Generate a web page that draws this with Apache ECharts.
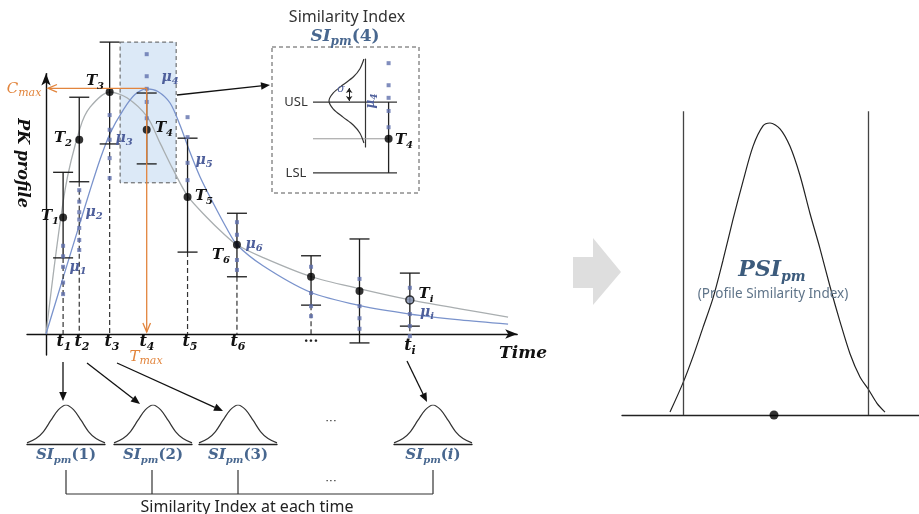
<!DOCTYPE html>
<html>
<head>
<meta charset="utf-8">
<script src="https://cdn.jsdelivr.net/npm/echarts@6/dist/echarts.min.js"></script>
<style>
  html, body { margin: 0; padding: 0; background: #fff; }
  #chart { width: 919px; height: 514px; }
</style>
</head>
<body>
<div id="chart"></div>
<script>
// sampling times: t1..t6, two unlabeled ones, ti
const times = [0.9, 1.75, 3.35, 5.3, 7.45, 10.05, 13.95, 16.5, 19.15];
// reference profile value T at each time (black dots) and its limits
const refPoints = [11.1, 18.5, 23.05, 19.45, 13.05, 8.5, 5.45, 4.1, 3.25];
const errTop = [15.4, 22.55, 27.8, 22.95, 18.65, 11.5, 7.45, 9.05, 5.8];
const errBottom = [7.25, 14.5, 18.1, 16.2, 7.8, 5.45, 2.75, -0.85, 0.75];
// individual test samples at each time (blue squares)
const samples = [
  [8.4, 7.4, 6.4, 4.9, 3.8],
  [13.7, 12.6, 11.6, 10.9, 10.1, 8.95, 8.0],
  [20.85, 19.45, 18.5, 16.75, 14.85],
  [26.65, 24.55, 23.35, 22.1, 20.55],
  [20.65, 18.75, 16.3, 14.65],
  [10.65, 9.45, 8.5, 7.05, 6.1],
  [6.4, 3.9, 2.65, 1.7],
  [5.25, 2.65, 1.5, 0.5],
  [4.4, 1.9, 0.75, -0.2]
];
// reference (grey) and test (blue) profiles
const refCurveT = [0, 1.0, 1.79, 2.32, 3.37, 4.26, 5.32, 6.0, 6.68, 7.47, 8.47, 9.32, 10.05, 11.4, 13.89, 16.53, 19.16, 21.79, 24.32];
const refCurveC = [0, 13.7, 19.6, 21.6, 23.05, 22.5, 20.7, 18.2, 15.7, 13.1, 11.1, 9.6, 8.5, 7.3, 5.5, 4.3, 3.25, 2.4, 1.6];
const testCurveT = [0, 0.89, 1.74, 2.32, 2.84, 3.37, 4.05, 4.68, 5.32, 5.89, 6.53, 7.05, 7.58, 8.11, 8.79, 9.53, 10.05, 11.42, 13.89, 16.53, 19.16, 21.79, 24.32];
const testCurveC = [0, 5.3, 10.3, 13.7, 16.6, 19.1, 21.3, 22.8, 23.35, 23.1, 22.0, 19.9, 17.3, 14.95, 12.5, 10.0, 8.5, 6.5, 4.0, 2.7, 1.9, 1.35, 0.95];
const cmax = 23.4;
const tmaxIndex = 3;
// highlighted region around t4: [t from, t to, c from, c to]
const focusBox = [3.9, 6.85, 14.4, 27.8];
// small similarity-index bells (offset in sigma, relative height)
const smallBellZ = [-2.6, -2, -1.5, -1, -0.5, 0, 0.5, 1, 1.5, 2, 2.6];
const smallBellH = [0.03, 0.14, 0.32, 0.61, 0.88, 1, 0.88, 0.61, 0.32, 0.14, 0.03];
const sigmaMark = [0.44, 0, 0.8];
// profile similarity index bell
const psiX = [-10.2, -8.9, -7.9, -6.9, -5.9, -4.9, -3.9, -2.9, -1.9, -0.9, -0.2, 0.8, 1.8, 2.8, 3.8, 4.8, 5.8, 6.8, 7.8, 8.8, 9.6, 10.5, 11.3];
const psiH = [0.01, 0.11, 0.2, 0.3, 0.4, 0.53, 0.67, 0.8, 0.92, 0.99, 1, 0.98, 0.92, 0.82, 0.69, 0.57, 0.44, 0.32, 0.21, 0.13, 0.09, 0.04, 0.01];
const psiLimits = [-8.9, 9.6];
const psiCenter = 0.2;
const insetColumnX = 0.9;

const SERIF = '"DejaVu Serif", serif';
const SANS = '"Noto Sans", sans-serif';
const BLUE_TXT = '#4e5f9b';
const SI_TXT = '#48678f';
const ORANGE = '#e2853d';

function zip(a, b) { return a.map((v, i) => [v, b[i]]); }

function label(x, y, text, o) {
  o = o || {};
  const size = o.size || 15;
  const sub = o.sub || Math.round(size * 0.68);
  const color = o.color || '#111';
  const w = o.weight || 'bold';
  const lh = Math.round(size * 1.32);
  return {
    type: 'text', x: x, y: y, rotation: o.rotation || 0, z: 100, silent: true,
    style: {
      text: text, align: o.align || 'center', verticalAlign: 'middle',
      rich: {
        m: { font: 'italic ' + w + ' ' + size + 'px ' + SERIF, fill: color, lineHeight: lh },
        r: { font: 'normal ' + w + ' ' + size + 'px ' + SERIF, fill: color, lineHeight: lh },
        s: { font: 'italic ' + w + ' ' + sub + 'px ' + SERIF, fill: color, lineHeight: Math.round(sub * 1.15), verticalAlign: 'bottom' }
      }
    }
  };
}

function plain(x, y, text, font, color, align) {
  return {
    type: 'text', x: x, y: y, z: 100, silent: true,
    style: { text: text, font: font, fill: color || '#222', align: align || 'center', verticalAlign: 'middle' }
  };
}

function arrow(x1, y1, x2, y2, color, open) {
  const a = Math.atan2(y2 - y1, x2 - x1);
  const L = 9, H = 3.8;
  const bx = x2 - L * Math.cos(a), by = y2 - L * Math.sin(a);
  const p1 = [bx + H * Math.sin(a), by - H * Math.cos(a)];
  const p2 = [bx - H * Math.sin(a), by + H * Math.cos(a)];
  const line = { type: 'line', shape: { x1: x1, y1: y1, x2: open ? x2 : bx, y2: open ? y2 : by }, style: { stroke: color, lineWidth: 1.3 } };
  const head = open
    ? { type: 'polyline', shape: { points: [p1, [x2, y2], p2] }, style: { stroke: color, lineWidth: 1.3, fill: null } }
    : { type: 'polygon', shape: { points: [[x2, y2], p1, p2] }, style: { fill: color } };
  return [line, head];
}

function line(x1, y1, x2, y2, color, w) {
  return { type: 'line', shape: { x1: x1, y1: y1, x2: x2, y2: y2 }, style: { stroke: color || '#333', lineWidth: w || 1.2 } };
}

const hidden = { show: false };
function hiddenAxis(grid, min, max, extra) {
  return Object.assign({ type: 'value', gridIndex: grid, min: min, max: max, show: false }, extra || {});
}
const baseLine = { show: true, onZero: false, lineStyle: { color: '#222', width: 1.3 } };

const grids = [
  { left: 27, top: 73.6, width: 490.2, height: 281.4 },
  { left: 329, top: 59, width: 36, height: 88 },
  { left: 313, top: 49, width: 84, height: 136.5 },
  { left: 27, top: 405, width: 78, height: 39 },
  { left: 114, top: 405, width: 78, height: 39 },
  { left: 199, top: 405, width: 78, height: 39 },
  { left: 394, top: 405, width: 78, height: 39 },
  { left: 622, top: 111.3, width: 300, height: 303.7 }
].map(g => Object.assign({ outerBoundsMode: 'none', containLabel: false }, g));

const mainAxisLine = {
  show: true, onZero: true, symbol: ['none', 'arrow'], symbolSize: [7, 12],
  lineStyle: { color: '#111', width: 1.4 }
};

const xAxes = [
  { type: 'value', gridIndex: 0, min: -1, max: 24.8, axisLine: mainAxisLine, axisTick: hidden, axisLabel: hidden, splitLine: hidden },
  hiddenAxis(1, 0, 1, { inverse: true }),
  hiddenAxis(2, 0, 1),
  { type: 'value', gridIndex: 3, min: -2.6, max: 2.6, axisLine: baseLine, axisTick: hidden, axisLabel: hidden, splitLine: hidden },
  { type: 'value', gridIndex: 4, min: -2.6, max: 2.6, axisLine: baseLine, axisTick: hidden, axisLabel: hidden, splitLine: hidden },
  { type: 'value', gridIndex: 5, min: -2.6, max: 2.6, axisLine: baseLine, axisTick: hidden, axisLabel: hidden, splitLine: hidden },
  { type: 'value', gridIndex: 6, min: -2.6, max: 2.6, axisLine: baseLine, axisTick: hidden, axisLabel: hidden, splitLine: hidden },
  { type: 'value', gridIndex: 7, min: -15, max: 15, axisLine: baseLine, axisTick: hidden, axisLabel: hidden, splitLine: hidden }
];
const yAxes = [
  { type: 'value', gridIndex: 0, min: -2, max: 24.8, axisLine: mainAxisLine, axisTick: hidden, axisLabel: hidden, splitLine: hidden },
  { type: 'value', gridIndex: 1, min: -2.85, max: 2.6, axisLine: { show: true, onZero: true, lineStyle: { color: '#333', width: 1.2 } }, axisTick: hidden, axisLabel: hidden, splitLine: hidden },
  hiddenAxis(2, 15, 28),
  hiddenAxis(3, 0, 1), hiddenAxis(4, 0, 1), hiddenAxis(5, 0, 1), hiddenAxis(6, 0, 1),
  hiddenAxis(7, 0, 1.04)
];

const series = [];

// shaded box around t4
series.push({
  type: 'custom', xAxisIndex: 0, yAxisIndex: 0, z: 1, silent: true,
  data: [focusBox],
  renderItem(p, api) {
    const a = api.coord([api.value(0), api.value(3)]);
    const b = api.coord([api.value(1), api.value(2)]);
    return { type: 'rect', shape: { x: a[0], y: a[1], width: b[0] - a[0], height: b[1] - a[1] },
      style: { fill: '#dce9f7', stroke: '#555', lineWidth: 1, lineDash: [4, 3] } };
  }
});

series.push({
  type: 'line', xAxisIndex: 0, yAxisIndex: 0, z: 2, symbol: 'none', smooth: 0.3,
  data: zip(refCurveT, refCurveC), lineStyle: { color: '#a9aeb0', width: 1.3 }
});
series.push({
  type: 'line', xAxisIndex: 0, yAxisIndex: 0, z: 2, symbol: 'none', smooth: 0.3,
  data: zip(testCurveT, testCurveC), lineStyle: { color: '#7a93cc', width: 1.3 }
});

// dashed drop lines from the lower limit to the time axis
series.push({
  type: 'custom', xAxisIndex: 0, yAxisIndex: 0, z: 3, silent: true,
  data: times.map((t, i) => [t, errBottom[i]]).filter((d, i) => d[1] > 0 && i !== tmaxIndex),
  renderItem(p, api) {
    const a = api.coord([api.value(0), api.value(1)]);
    const b = api.coord([api.value(0), 0]);
    return { type: 'line', shape: { x1: a[0], y1: a[1], x2: b[0], y2: b[1] },
      style: { stroke: '#333', lineWidth: 1.2, lineDash: [5, 3] } };
  }
});

// limit bars
series.push({
  type: 'custom', xAxisIndex: 0, yAxisIndex: 0, z: 4, silent: true,
  data: times.map((t, i) => [t, errTop[i], errBottom[i]]),
  renderItem(p, api) {
    const top = api.coord([api.value(0), api.value(1)]);
    const bot = api.coord([api.value(0), api.value(2)]);
    const st = { stroke: '#1a1a1a', lineWidth: 1.3 };
    const w = 10;
    return { type: 'group', children: [
      { type: 'line', shape: { x1: top[0], y1: top[1], x2: bot[0], y2: bot[1] }, style: st },
      { type: 'line', shape: { x1: top[0] - w, y1: top[1], x2: top[0] + w, y2: top[1] }, style: st },
      { type: 'line', shape: { x1: bot[0] - w, y1: bot[1], x2: bot[0] + w, y2: bot[1] }, style: st }
    ] };
  }
});

// samples
const sampleData = [];
samples.forEach((arr, i) => arr.forEach(v => sampleData.push([times[i], v])));
series.push({
  type: 'scatter', xAxisIndex: 0, yAxisIndex: 0, z: 5, clip: false, silent: true,
  symbol: 'rect', symbolSize: 4, itemStyle: { color: '#6070ad' }, data: sampleData
});

// reference points
series.push({
  type: 'scatter', xAxisIndex: 0, yAxisIndex: 0, z: 6, clip: false, silent: true,
  symbolSize: 8, itemStyle: { color: '#000' },
  data: times.map((t, i) => {
    const d = { value: [t, refPoints[i]] };
    if (i === times.length - 1) d.itemStyle = { color: '#7d8bab', borderColor: '#111', borderWidth: 1.5 };
    return d;
  })
});

// Cmax / Tmax arrows
series.push({
  type: 'custom', xAxisIndex: 0, yAxisIndex: 0, z: 7, silent: true,
  data: [[times[tmaxIndex], cmax]],
  renderItem(p, api) {
    const pk = api.coord([api.value(0), api.value(1)]);
    const c = api.coord([0, api.value(1)]);
    const t = api.coord([api.value(0), 0]);
    return { type: 'group', children: [].concat(
      arrow(pk[0], pk[1], c[0] + 2, c[1], ORANGE, true),
      arrow(pk[0], pk[1], t[0], t[1] - 2, ORANGE, true)
    ) };
  }
});

// inset: sideways bell
series.push({
  type: 'line', xAxisIndex: 1, yAxisIndex: 1, z: 5, symbol: 'none', smooth: 0.3, silent: true,
  data: zip(smallBellH, smallBellZ), lineStyle: { color: '#333', width: 1.2 },
  markLine: {
    silent: true, symbol: ['arrow', 'arrow'], symbolSize: 5, label: { show: false },
    lineStyle: { color: '#222', width: 1, type: 'solid' },
    data: [[{ coord: [sigmaMark[0], sigmaMark[1]] }, { coord: [sigmaMark[0], sigmaMark[2]] }]]
  }
});

// inset: USL / LSL and the t4 column
series.push({
  type: 'custom', xAxisIndex: 2, yAxisIndex: 2, z: 4, silent: true,
  data: [[insetColumnX, errTop[tmaxIndex], errBottom[tmaxIndex], refPoints[tmaxIndex]]],
  renderItem(p, api) {
    const x = api.value(0);
    const u0 = api.coord([0, api.value(1)]), u1 = api.coord([1, api.value(1)]);
    const l0 = api.coord([0, api.value(2)]), l1 = api.coord([1, api.value(2)]);
    const t0 = api.coord([0, api.value(3)]), t1 = api.coord([x, api.value(3)]);
    const cu = api.coord([x, api.value(1)]), cl = api.coord([x, api.value(2)]);
    return { type: 'group', children: [
      line(u0[0], u0[1], u1[0], u1[1], '#333', 1.3),
      line(l0[0], l0[1], l1[0], l1[1], '#333', 1.3),
      line(t0[0], t0[1], t1[0], t1[1], '#999', 1),
      line(cu[0], cu[1], cl[0], cl[1], '#222', 1.3)
    ] };
  }
});
series.push({
  type: 'scatter', xAxisIndex: 2, yAxisIndex: 2, z: 5, clip: false, silent: true,
  symbol: 'rect', symbolSize: 4, itemStyle: { color: '#6070ad' },
  data: samples[tmaxIndex].map(v => [insetColumnX, v])
});
series.push({
  type: 'scatter', xAxisIndex: 2, yAxisIndex: 2, z: 6, clip: false, silent: true,
  symbolSize: 8, itemStyle: { color: '#000' },
  data: [[insetColumnX, refPoints[tmaxIndex]]]
});

// small bells
[3, 4, 5, 6].forEach(g => series.push({
  type: 'line', xAxisIndex: g, yAxisIndex: g, symbol: 'none', smooth: 0.35, silent: true,
  data: zip(smallBellZ, smallBellH), lineStyle: { color: '#333', width: 1.2 }
}));

// PSI bell
series.push({
  type: 'line', xAxisIndex: 7, yAxisIndex: 7, symbol: 'none', smooth: 0.3, silent: true,
  data: zip(psiX, psiH), lineStyle: { color: '#222', width: 1.2 },
  markLine: {
    silent: true, symbol: 'none', label: { show: false },
    lineStyle: { color: '#444', width: 1.3, type: 'solid' },
    data: psiLimits.map(v => ({ xAxis: v }))
  }
});
series.push({
  type: 'scatter', xAxisIndex: 7, yAxisIndex: 7, clip: false, silent: true, z: 6,
  symbolSize: 9, itemStyle: { color: '#000' }, data: [[psiCenter, 0]]
});

const graphics = [].concat(
  // inset frame and titles
  [{ type: 'rect', shape: { x: 272, y: 47, width: 147, height: 146 }, style: { fill: null, stroke: '#555', lineWidth: 1, lineDash: [4, 3] } }],
  [plain(347, 17, 'Similarity Index', '16px ' + SANS, '#333')],
  [label(345, 37, '{m|SI}{s|pm}{r|(4)}', { size: 17, sub: 12, color: SI_TXT })],
  [plain(296, 102, 'USL', '13px ' + SANS, '#333'), plain(296, 173, 'LSL', '13px ' + SANS, '#333')],
  [plain(341, 89, 'σ', 'italic 11px ' + SERIF, BLUE_TXT)],
  [label(371, 101, '{m|μ}{s|4}', { size: 12, sub: 9, color: BLUE_TXT, rotation: Math.PI / 2 })],
  [label(404, 140, '{m|T}{s|4}', { size: 15 })],
  arrow(177, 95, 270, 85, '#111', false),
  // main labels
  [label(22, 163, '{m|PK profile}', { size: 16, rotation: -Math.PI / 2 })],
  [label(523, 354, '{m|Time}', { size: 17 })],
  [label(24, 89, '{m|C}{s|max}', { size: 15, sub: 11, color: ORANGE, weight: 'normal' })],
  [label(146, 357, '{m|T}{s|max}', { size: 15, sub: 11, color: ORANGE, weight: 'normal' })],
  [
    label(50, 216, '{m|T}{s|1}'), label(63, 138, '{m|T}{s|2}'), label(95, 81, '{m|T}{s|3}'),
    label(164, 128, '{m|T}{s|4}'), label(204, 196, '{m|T}{s|5}'), label(221, 255, '{m|T}{s|6}'),
    label(426, 294, '{m|T}{s|i}')
  ],
  [
    label(78, 267, '{m|μ}{s|1}', { size: 14, color: BLUE_TXT }), label(94, 212, '{m|μ}{s|2}', { size: 14, color: BLUE_TXT }),
    label(124, 138, '{m|μ}{s|3}', { size: 14, color: BLUE_TXT }), label(170, 77, '{m|μ}{s|4}', { size: 14, color: BLUE_TXT }),
    label(204, 160, '{m|μ}{s|5}', { size: 14, color: BLUE_TXT }), label(254, 244, '{m|μ}{s|6}', { size: 14, color: BLUE_TXT }),
    label(427, 312, '{m|μ}{s|i}', { size: 14, color: BLUE_TXT })
  ],
  [
    label(64, 342, '{m|t}{s|1}', { size: 16 }), label(82, 342, '{m|t}{s|2}', { size: 16 }),
    label(112, 342, '{m|t}{s|3}', { size: 16 }), label(147, 342, '{m|t}{s|4}', { size: 16 }),
    label(190, 342, '{m|t}{s|5}', { size: 16 }), label(238, 342, '{m|t}{s|6}', { size: 16 }),
    label(410, 346, '{m|t}{s|i}', { size: 16 }), plain(311, 342, '···', 'bold 14px ' + SERIF, '#222')
  ],
  // arrows to the per-time bells
  arrow(63, 362, 63, 401, '#111', false),
  arrow(87, 363, 140, 404, '#111', false),
  arrow(117, 363, 223, 411, '#111', false),
  arrow(407, 361, 427, 402, '#111', false),
  [
    label(66, 455, '{m|SI}{s|pm}{r|(1)}', { size: 15, sub: 10, color: SI_TXT }),
    label(153, 455, '{m|SI}{s|pm}{r|(2)}', { size: 15, sub: 10, color: SI_TXT }),
    label(238, 455, '{m|SI}{s|pm}{r|(3)}', { size: 15, sub: 10, color: SI_TXT }),
    label(433, 455, '{m|SI}{s|pm}{r|(}{m|i}{r|)}', { size: 15, sub: 10, color: SI_TXT })
  ],
  [plain(331, 421, '• • •', '6px ' + SANS, '#222'), plain(331, 481, '• • •', '6px ' + SANS, '#222')],
  // bracket
  [
    line(66, 470, 66, 494), line(152, 470, 152, 494), line(238, 470, 238, 494), line(433, 470, 433, 494),
    line(66, 494, 433, 494)
  ],
  [plain(247, 507, 'Similarity Index at each time', '16px ' + SANS, '#222')],
  // grey block arrow
  [{ type: 'polygon', shape: { points: [[573, 257], [593, 257], [593, 238], [621, 272], [593, 305], [593, 288], [573, 288]] }, style: { fill: '#dedede' } }],
  [label(772, 270, '{m|PSI}{s|pm}', { size: 22, sub: 14, color: '#3c5b7c' })],
  [plain(773, 294, '(Profile Similarity Index)', '13.5px ' + SANS, '#5f7489')]
);

const chart = echarts.init(document.getElementById('chart'));
chart.setOption({
  animation: false,
  backgroundColor: '#fff',
  grid: grids,
  xAxis: xAxes,
  yAxis: yAxes,
  series: series,
  graphic: { elements: graphics }
});
</script>
</body>
</html>
